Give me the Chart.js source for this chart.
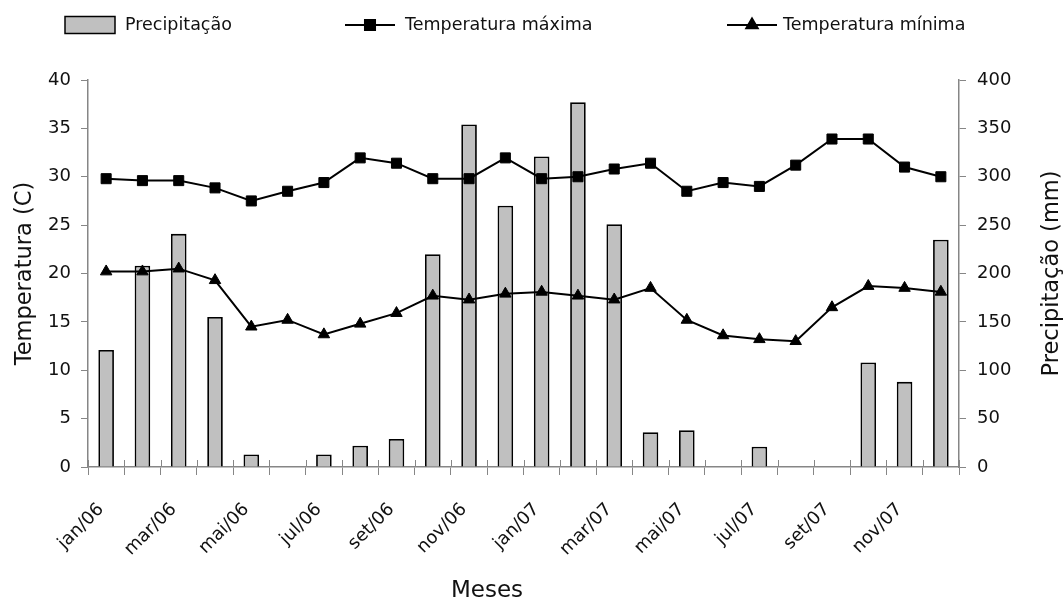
<!DOCTYPE html>
<html>
<head>
<meta charset="utf-8">
<script src="https://cdn.jsdelivr.net/npm/chart.js@4.4.1/dist/chart.umd.min.js"></script>
<style>
  html, body { margin: 0; padding: 0; background: #fff; }
  #wrap { width: 1064px; height: 601px; }
</style>
</head>
<body>
<div id="wrap"><canvas id="climaChart" width="1064" height="601"></canvas></div>
<script>
// months jan/06 .. dez/07
const meses = ['jan/06', 'fev/06', 'mar/06', 'abr/06', 'mai/06', 'jun/06', 'jul/06', 'ago/06', 'set/06', 'out/06', 'nov/06', 'dez/06',
               'jan/07', 'fev/07', 'mar/07', 'abr/07', 'mai/07', 'jun/07', 'jul/07', 'ago/07', 'set/07', 'out/07', 'nov/07', 'dez/07'];
const precipitacao = [121, 208, 241, 155, 13, 0, 13, 22, 29, 220, 354, 270,
                      321, 377, 251, 36, 38, 0, 21, 0, 0, 108, 88, 235];
const tempMax = [29.8, 29.6, 29.6, 28.85, 27.5, 28.5, 29.4, 31.95, 31.4, 29.8, 29.8, 31.95,
                 29.8, 30.0, 30.8, 31.4, 28.5, 29.4, 29.0, 31.2, 33.9, 33.9, 31.0, 30.0];
const tempMin = [20.2, 20.2, 20.5, 19.3, 14.5, 15.2, 13.7, 14.8, 15.9, 17.7, 17.3, 17.9,
                 18.1, 17.7, 17.3, 18.5, 15.2, 13.6, 13.2, 13.0, 16.5, 18.7, 18.5, 18.1];
const tempTicks = [0, 5, 10, 15, 20, 25, 30, 35, 40];
const precTicks = [0, 50, 100, 150, 200, 250, 300, 350, 400];

const FONT = 'DejaVu Sans';
const AXIS_GREY = '#868686';

// legend, titles and the inner half of the x ticks drawn by hand
// (chart.js legend padding is shared with height, right title reads top-down)
const customLegend = {
    id: 'customLegend',
    afterDraw(chart) {
        const ctx = chart.ctx;
        const ds = chart.data.datasets;
        const cy = 25;
        ctx.save();
        ctx.font = '17.5px "' + FONT + '"';
        ctx.textBaseline = 'middle';

        // Precipitação
        const b = ds[0];
        ctx.fillStyle = b.backgroundColor;
        ctx.fillRect(65, cy - 8.5, 50, 17);
        ctx.strokeStyle = b.borderColor;
        ctx.lineWidth = 1.5;
        ctx.strokeRect(65, cy - 8.5, 50, 17);
        ctx.fillStyle = '#111';
        ctx.fillText(b.label, 125, cy);

        // line series
        [[ds[1], 345, 405], [ds[2], 727, 783]].forEach(([d, x0, tx]) => {
            ctx.strokeStyle = d.borderColor;
            ctx.lineWidth = d.borderWidth;
            ctx.beginPath();
            ctx.moveTo(x0, cy);
            ctx.lineTo(x0 + 50, cy);
            ctx.stroke();
            ctx.fillStyle = d.pointBackgroundColor;
            Chart.helpers.drawPoint(ctx, {pointStyle: d.pointStyle, radius: d.pointRadius, borderWidth: d.pointBorderWidth, rotation: 0}, x0 + 25, cy);
            ctx.fillStyle = '#111';
            ctx.fillText(d.label, tx, cy);
        });

        // x axis title
        ctx.font = '23px "' + FONT + '"';
        ctx.textAlign = 'center';
        ctx.fillText('Meses', 487, 591);

        // right axis title, reading bottom-up
        const area = chart.chartArea;
        ctx.translate(1052, (area.top + area.bottom) / 2);
        ctx.rotate(-Math.PI / 2);
        ctx.font = '22.5px "' + FONT + '"';
        ctx.fillText('Precipitação (mm)', 0, 0);
        ctx.restore();

        // cross ticks on the category axis
        const xs = chart.scales.x;
        ctx.save();
        ctx.strokeStyle = AXIS_GREY;
        ctx.lineWidth = 1;
        ctx.beginPath();
        for (let i = 0; i <= meses.length; i++) {
            const px = Math.round(xs.getPixelForValue(i - 0.5)) + 0.5;
            ctx.moveTo(px, area.bottom - 7);
            ctx.lineTo(px, area.bottom);
        }
        ctx.stroke();
        ctx.restore();
    }
};

const ctx = document.getElementById('climaChart').getContext('2d');
new Chart(ctx, {
    type: 'bar',
    data: {
        labels: meses,
        datasets: [
            {
                type: 'bar',
                label: 'Precipitação',
                data: precipitacao,
                yAxisID: 'y1',
                backgroundColor: '#c0c0c0',
                borderColor: '#000',
                borderWidth: 1.8,
                barPercentage: 0.43,
                categoryPercentage: 1,
                order: 2,
            },
            {
                type: 'line',
                label: 'Temperatura máxima',
                data: tempMax,
                yAxisID: 'y',
                borderColor: '#000',
                borderWidth: 2,
                pointStyle: 'rect',
                pointRadius: 7.1,
                pointBorderWidth: 1,
                pointBackgroundColor: '#000',
                pointBorderColor: '#000',
                tension: 0,
                order: 0,
            },
            {
                type: 'line',
                label: 'Temperatura mínima',
                data: tempMin,
                yAxisID: 'y',
                borderColor: '#000',
                borderWidth: 2,
                pointStyle: 'triangle',
                pointRadius: 6.6,
                pointBorderWidth: 1,
                pointBackgroundColor: '#000',
                pointBorderColor: '#000',
                tension: 0,
                order: 1,
            },
        ],
    },
    options: {
        responsive: false,
        animation: false,
        layout: { padding: { top: 80, left: 0, right: 0, bottom: 0 } },
        plugins: {
            legend: { display: false },
            tooltip: { enabled: false },
        },
        scales: {
            x: {
                grid: { offset: true, drawOnChartArea: false, color: AXIS_GREY, tickLength: 8 },
                border: { color: AXIS_GREY, width: 1.5 },
                ticks: {
                    autoSkip: false,
                    maxRotation: 45,
                    minRotation: 45,
                    padding: 24,
                    labelOffset: -5,
                    color: '#111',
                    font: { family: FONT, size: 18 },
                    callback: (v, i) => (i % 2 === 0 ? meses[i] : ''),
                },
                afterFit: (s) => { s.height = 134; },
            },
            y: {
                position: 'left',
                min: 0,
                max: 40,
                afterBuildTicks: (s) => { s.ticks = tempTicks.map(v => ({value: v})); },
                grid: { drawOnChartArea: false, color: AXIS_GREY, tickLength: 7 },
                border: { color: AXIS_GREY, width: 1.5 },
                ticks: { padding: 10, color: '#111', font: { family: FONT, size: 18 } },
                title: { display: true, text: 'Temperatura (C)', color: '#111', font: { family: FONT, size: 22.5 }, padding: { top: 12, bottom: 0 } },
                afterFit: (s) => { s.width = 88; },
            },
            y1: {
                position: 'right',
                min: 0,
                max: 400,
                afterBuildTicks: (s) => { s.ticks = precTicks.map(v => ({value: v})); },
                grid: { drawOnChartArea: false, color: AXIS_GREY, tickLength: 7 },
                border: { color: AXIS_GREY, width: 1.5 },
                ticks: { padding: 11, color: '#111', font: { family: FONT, size: 18 } },
                afterFit: (s) => { s.width = 105; },
            },
        },
    },
    plugins: [customLegend],
});
</script>
</body>
</html>
